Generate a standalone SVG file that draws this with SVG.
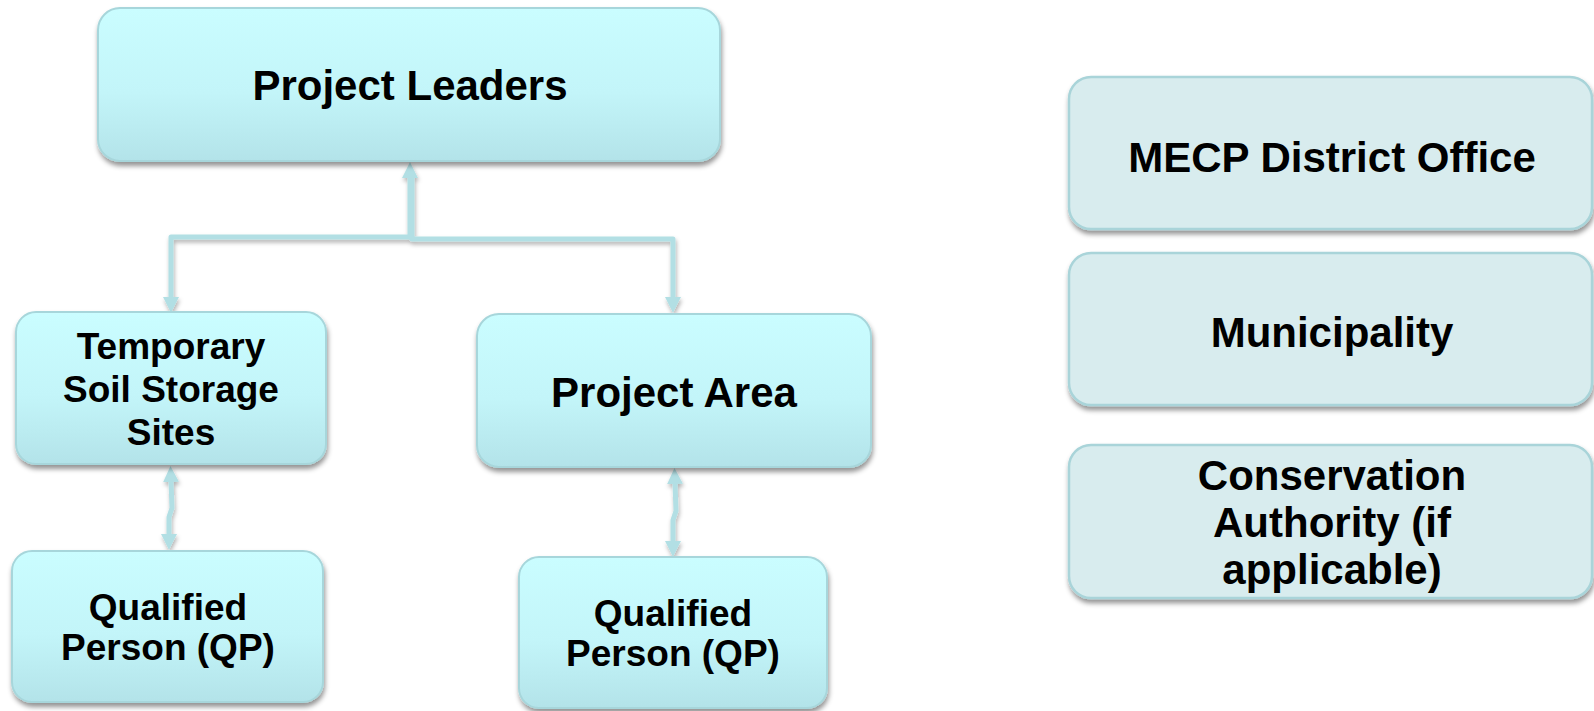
<svg xmlns="http://www.w3.org/2000/svg" width="1594" height="711" viewBox="0 0 1594 711">
  <defs>
    <linearGradient id="aquaFill" x1="0" y1="0" x2="0" y2="1">
      <stop offset="0" stop-color="#cafdff"/>
      <stop offset="0.55" stop-color="#c3f5f9"/>
      <stop offset="1" stop-color="#b3e3e9"/>
    </linearGradient>
    <filter id="dropShadow" x="-10%" y="-10%" width="120%" height="130%">
      <feDropShadow dx="1" dy="4" stdDeviation="2.5" flood-color="#000" flood-opacity="0.42"/>
    </filter>
    <filter id="lineShadow" x="-20%" y="-20%" width="140%" height="140%">
      <feDropShadow dx="1" dy="3" stdDeviation="2" flood-color="#000" flood-opacity="0.3"/>
    </filter>
    <marker id="arrow" viewBox="0 0 16 16" markerWidth="16" markerHeight="16" markerUnits="userSpaceOnUse" refX="1" refY="8" orient="auto-start-reverse">
      <path d="M0,0 L16,8 L0,16 z" fill="#b2dfe4"/>
    </marker>
  </defs>
  <style>
    .box-main { fill: url(#aquaFill); stroke: #a7d6db; stroke-width: 2; filter: url(#dropShadow); }
    .box-side { fill: #d8ecee; stroke: #a9d4d9; stroke-width: 2.5; filter: url(#dropShadow); }
    .label { font-family: "Liberation Sans", Arial, sans-serif; font-weight: bold; fill: #000; text-anchor: middle; }
    .big { font-size: 42px; }
    .small { font-size: 37px; }
    .link { fill: none; stroke: #b2dfe4; stroke-width: 5; stroke-linejoin: round; }
  </style>

  <g id="connectors" filter="url(#lineShadow)">
    <path class="link" d="M410,177 V237 H171 V298" marker-start="url(#arrow)" marker-end="url(#arrow)"/>
    <path class="link" d="M412,177 V239 H673 V298" marker-end="url(#arrow)"/>
    <path class="link" d="M171,481 L172,508 L169,517 V535" marker-start="url(#arrow)" marker-end="url(#arrow)"/>
    <path class="link" d="M675,483 L676,511 L673,520 V542" marker-start="url(#arrow)" marker-end="url(#arrow)"/>
  </g>

  <g id="project-leaders">
    <rect class="box-main" x="98" y="8" width="622" height="153" rx="22"/>
    <text class="label big" x="410" y="100">Project Leaders</text>
  </g>

  <g id="temporary-soil-storage">
    <rect class="box-main" x="16" y="312" width="310" height="152" rx="20"/>
    <text class="label small" x="171" y="359">Temporary</text>
    <text class="label small" x="171" y="402">Soil Storage</text>
    <text class="label small" x="171" y="445">Sites</text>
  </g>

  <g id="project-area">
    <rect class="box-main" x="477" y="314" width="394" height="153" rx="22"/>
    <text class="label big" x="674" y="407">Project Area</text>
  </g>

  <g id="qp-storage">
    <rect class="box-main" x="12" y="551" width="311" height="151" rx="20"/>
    <text class="label small" x="168" y="620">Qualified</text>
    <text class="label small" x="168" y="660">Person (QP)</text>
  </g>

  <g id="qp-area">
    <rect class="box-main" x="519" y="557" width="308" height="151" rx="20"/>
    <text class="label small" x="673" y="626">Qualified</text>
    <text class="label small" x="673" y="666">Person (QP)</text>
  </g>

  <g id="mecp-district-office">
    <rect class="box-side" x="1069" y="77" width="523" height="152" rx="22"/>
    <text class="label big" x="1332" y="172">MECP District Office</text>
  </g>

  <g id="municipality">
    <rect class="box-side" x="1069" y="253" width="523" height="152" rx="22"/>
    <text class="label big" x="1332" y="347">Municipality</text>
  </g>

  <g id="conservation-authority">
    <rect class="box-side" x="1069" y="445" width="523" height="153" rx="22"/>
    <text class="label big" x="1332" y="490">Conservation</text>
    <text class="label big" x="1332" y="537">Authority (if</text>
    <text class="label big" x="1332" y="584">applicable)</text>
  </g>
</svg>
